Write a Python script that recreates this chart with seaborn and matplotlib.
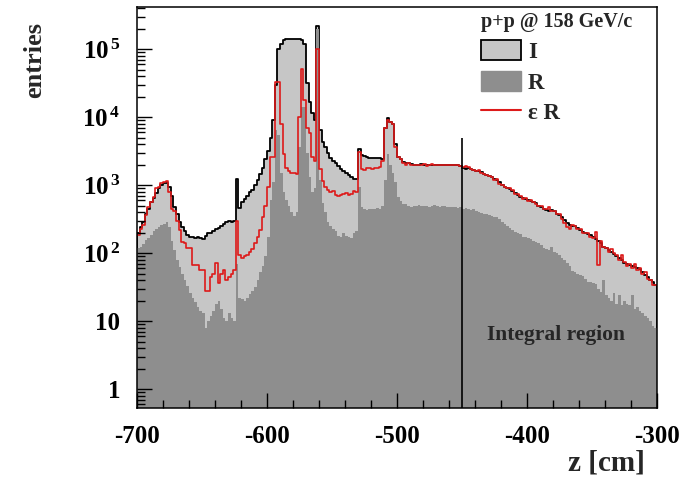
import numpy as np
import pandas as pd
import matplotlib
matplotlib.use("Agg")
import matplotlib.pyplot as plt
import seaborn as sns
from matplotlib.patches import Patch
from matplotlib.lines import Line2D
from matplotlib.ticker import MultipleLocator, LogLocator, NullFormatter

# z binning: 2 cm bins from -700 to -300 cm
z_edges = np.arange(-700, -299, 2)
z_centers = z_edges[:-1] + 1

# I : light grey histogram (all entries)
I_counts = [200, 240, 290, 380, 450, 560, 640, 760, 900, 1000,
            1070, 1080, 950, 700, 480, 380, 290, 240, 210, 185,
            170, 175, 165, 170, 165, 160, 180, 195, 200, 215,
            225, 235, 250, 265, 290, 300, 290, 300, 1250, 460,
            560, 620, 700, 780, 850, 1000, 1200, 1450, 1800, 2400,
            3200, 5000, 9000, 30000, 100000, 120000, 135000, 140000, 140000, 140000,
            140000, 140000, 140000, 135000, 120000, 32000, 17000, 11500, 9000, 220000,
            6400, 4300, 3600, 3000, 2500, 2300, 2100, 1900, 1750, 1600,
            1500, 1400, 1300, 1250, 1250, 3400, 2800, 2700, 2600, 2500,
            2500, 2500, 2550, 2500, 2400, 7000, 9600, 8500, 8000, 4000,
            2600, 2400, 2200, 2150, 2100, 2050, 2000, 1980, 2000, 2020,
            1990, 2000, 2010, 2000, 1980, 1990, 2000, 1970, 1990, 2000,
            1980, 1960, 1970, 1950, 1930, 1800, 1750, 1800, 1700, 1650,
            1600, 1600, 1550, 1450, 1400, 1350, 1300, 1250, 1200, 1100,
            1000, 950, 920, 880, 820, 760, 720, 680, 640, 620,
            600, 580, 560, 540, 500, 470, 450, 430, 420, 430,
            410, 380, 360, 340, 310, 280, 260, 250, 250, 235,
            220, 205, 200, 190, 185, 170, 160, 150, 140, 125,
            118, 110, 105, 98, 92, 85, 80, 72, 68, 66,
            64, 62, 60, 58, 52, 48, 44, 40, 37, 34]

# R : dark grey histogram
R_counts = [120, 125, 135, 155, 165, 185, 210, 230, 245, 260,
            270, 285, 240, 150, 110, 80, 62, 50, 40, 33,
            26, 22, 19, 16, 14, 13, 8, 10, 12, 14,
            18, 20, 15, 11, 10, 13, 11, 10, 70, 22,
            21, 20, 22, 25, 28, 32, 40, 52, 65, 90,
            170, 600, 1100, 6500, 5500, 1500, 800, 600, 500, 400,
            350, 400, 3600, 14000, 14000, 3000, 1300, 800, 900, 200000,
            1200, 550, 400, 290, 250, 230, 210, 180, 170, 195,
            180, 170, 165, 200, 210, 930, 480, 440, 430, 450,
            440, 450, 460, 450, 500, 1200, 2900, 2000, 1500, 1100,
            660, 580, 520, 530, 500, 480, 500, 490, 510, 500,
            490, 500, 480, 495, 505, 490, 480, 500, 485, 470,
            480, 475, 470, 465, 470, 450, 460, 440, 430, 440,
            420, 400, 390, 380, 370, 360, 350, 340, 345, 320,
            290, 270, 250, 235, 220, 205, 195, 190, 175, 170,
            165, 160, 150, 145, 140, 130, 120, 115, 110, 125,
            105, 100, 95, 85, 80, 72, 65, 55, 52, 50,
            48, 46, 42, 38, 37, 36, 35, 30, 27, 40,
            24, 22, 20, 26, 18, 24, 17, 20, 18, 17,
            24, 15, 16, 14, 13, 12, 11, 10, 8.5, 8]

# eps*R : red line
eR_counts = [185, 230, 260, 360, 470, 560, 680, 900, 930, 1070,
             1100, 1170, 780, 450, 420, 300, 220, 145, 140, 120,
             120, 66, 66, 66, 56, 56, 28, 28, 44, 50,
             71, 36, 50, 56, 40, 44, 50, 56, 300, 95,
             85, 90, 93, 104, 115, 140, 170, 220, 340, 500,
             930, 2600, 2600, 33000, 33000, 8000, 2900, 1800, 1600, 1500,
             1500, 1450, 10000, 52000, 17800, 7000, 5800, 2600, 2300, 100000,
             1700, 1170, 950, 840, 800, 820, 720, 700, 710, 750,
             760, 720, 730, 810, 800, 3050, 1700, 1650, 1800, 1800,
             1750, 1800, 1800, 1850, 2300, 7000, 9000, 8500, 8000, 3600,
             2600, 2400, 2100, 2000, 2100, 2000, 2000, 1950, 1980, 2000,
             2020, 1900, 2000, 2050, 2000, 1980, 2000, 1990, 1970, 2000,
             1990, 1960, 1970, 1950, 1930, 1850, 1900, 1850, 1750, 1650,
             1600, 1650, 1500, 1450, 1400, 1380, 1300, 1200, 1250, 1050,
             1020, 950, 900, 900, 840, 740, 730, 700, 620, 640,
             580, 600, 560, 520, 500, 500, 450, 440, 470, 410,
             420, 370, 370, 320, 280, 240, 230, 260, 250, 230,
             225, 200, 195, 195, 175, 165, 205, 66, 150, 125,
             120, 105, 115, 100, 95, 80, 95, 75, 65, 70,
             60, 68, 56, 60, 50, 52, 42, 40, 34, 34]

integral_start = -450
integral_line_top = 5000
y_ticks = [1, 10, 100, 1000, 1e4, 1e5]
y_ticklabels = ["1", "10", r"$10^{\,2}$", r"$10^{\,3}$", r"$10^{\,4}$", r"$10^{\,5}$"]
legend_labels = ["I", "R", "ε R"]

light = "#c6c6c6"
dark = "#8e8e8e"
red = "#dd1a1a"

hist = pd.DataFrame({"z": z_centers, "I": I_counts, "R": R_counts, "eR": eR_counts})
bin_edges = list(z_edges)

sns.set_style("ticks")
plt.rcParams.update({
    "font.family": ["Liberation Serif", "DejaVu Serif"],
    "font.weight": "bold",
    "mathtext.fontset": "custom",
    "mathtext.rm": "Liberation Serif:bold",
    "mathtext.it": "Liberation Serif:bold",
    "mathtext.bf": "Liberation Serif:bold",
    "axes.linewidth": 1.1,
    "axes.unicode_minus": False,
    "xtick.color": "black",
    "ytick.color": "black",
    "axes.edgecolor": "black",
})

fig = plt.figure(figsize=(6.89, 4.80), dpi=100)
ax = fig.add_axes([0.1988, 0.15, 0.7548, 0.835])

sns.histplot(data=hist, x="z", weights="I", bins=bin_edges, element="step",
             fill=True, color=light, edgecolor="black", linewidth=1.3,
             alpha=1, ax=ax)
sns.histplot(data=hist, x="z", weights="R", bins=bin_edges, element="step",
             fill=True, color=dark, linewidth=0, alpha=1, ax=ax)
sns.histplot(data=hist, x="z", weights="eR", bins=bin_edges, element="step",
             fill=False, color=red, linewidth=1.2, ax=ax)

ax.set_yscale("log")
ax.set_xlim(-700, -300)
ax.set_ylim(0.526, 4.15e5)
ax.set_axisbelow(False)

ax.vlines(integral_start, 0.526, integral_line_top, color="black", linewidth=1.2)
ax.text(-431, 6.2, "Integral region", fontsize=15.5, fontweight="bold",
        ha="left", va="center")

ax.set_yticks(y_ticks, y_ticklabels)
ax.yaxis.set_minor_locator(LogLocator(base=10, subs=np.arange(2, 10)))
ax.yaxis.set_minor_formatter(NullFormatter())
ax.xaxis.set_major_locator(MultipleLocator(100))
ax.xaxis.set_minor_locator(MultipleLocator(20))
ax.tick_params(which="both", direction="in", top=False, right=False,
               labelsize=18, width=1)
ax.tick_params(which="major", length=11, pad=12)
ax.tick_params(which="minor", length=6)

ax.set_xlabel("")
ax.set_ylabel("")
fig.text(0.936, 0.008, "z [cm]", fontsize=21, fontweight="bold",
         ha="right", va="bottom")
fig.text(0.05, 0.954, "entries", fontsize=19, fontweight="bold",
         rotation=90, ha="center", va="top")

handles = [Patch(facecolor=light, edgecolor="black", linewidth=1.3),
           Patch(facecolor=dark, edgecolor=dark),
           Line2D([0], [0], color=red, linewidth=1.5)]
leg = ax.legend(handles, legend_labels, title="p+p @ 158 GeV/c",
                loc="upper left", bbox_to_anchor=(0.662, 0.987), frameon=False,
                fontsize=16.5, title_fontproperties={"weight": "bold", "size": 14.5},
                handlelength=1.74, handleheight=1.0, labelspacing=0.33,
                handletextpad=0.3, borderaxespad=0, borderpad=0,
                alignment="left")

fig.savefig("out.png", dpi=100)
